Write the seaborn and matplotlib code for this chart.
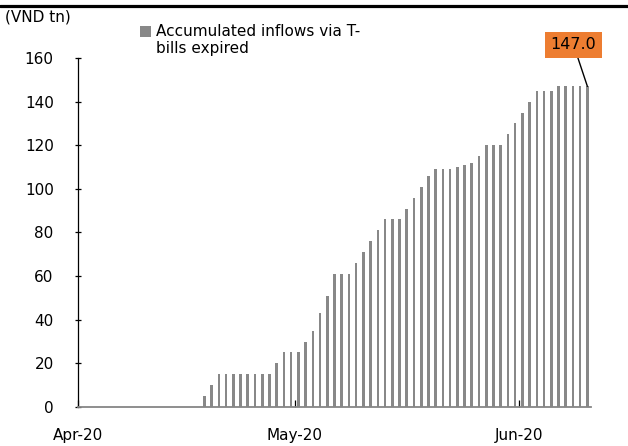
import matplotlib
matplotlib.use("Agg")
import matplotlib.pyplot as plt
from matplotlib.lines import Line2D
from matplotlib.patches import Rectangle
from matplotlib.legend_handler import HandlerPatch
import seaborn as sns
import pandas as pd
import numpy as np

# ---- data ----
start_date = "2020-04-18"
end_date = "2020-06-10"
values = [5, 10, 15, 15, 15, 15, 15, 15, 15, 15, 20, 25, 25, 25, 30, 35, 43, 51,
          61, 61, 61, 66, 71, 76, 81, 86, 86, 86, 91, 96, 101, 106, 109, 109, 109,
          110, 111, 112, 115, 120, 120, 120, 125, 130, 135, 140, 145, 145, 145,
          147, 147, 147, 147, 147]
series_label = "Accumulated inflows via T-\nbills expired"
unit_label = "(VND tn)"
tick_dates = ["2020-04-01", "2020-05-01", "2020-06-01"]
tick_labels = ["Apr-20", "May-20", "Jun-20"]
axis_start = "2020-04-01"
axis_end = "2020-06-11"
last_label = "147.0"

dates = pd.date_range(start_date, end_date, freq="D")
origin = pd.Timestamp(axis_start)
day_pos = (dates - origin).days.values + 0.5
df = pd.DataFrame({"day": day_pos, "value": values})

sns.set_theme(style="white")
plt.rcParams["font.family"] = ["DejaVu Sans"]
plt.rcParams["text.color"] = "#000000"

fig = plt.figure(figsize=(6.28, 4.46), dpi=100)
ax = fig.add_axes([78 / 628, 39 / 446, 513 / 628, 349 / 446])

bar_color = "#888888"
sns.barplot(data=df, x="day", y="value", native_scale=True, color=bar_color,
            width=0.36, linewidth=0, ax=ax, saturation=1, errorbar=None,
            label=series_label)

ax.set_xlim(0, (pd.Timestamp(axis_end) - origin).days)
ax.set_ylim(0, 160)
ax.set_yticks(np.arange(0, 161, 20))
ax.set_xticks([(pd.Timestamp(d) - origin).days for d in tick_dates])
ax.set_xticklabels(tick_labels)
ax.set_xlabel("")
ax.set_ylabel("")

for s in ["top", "right"]:
    ax.spines[s].set_visible(False)
ax.spines["left"].set_color("#000000")
ax.spines["left"].set_linewidth(0.9)
ax.spines["bottom"].set_color("#868686")
ax.spines["bottom"].set_linewidth(1.3)

ax.tick_params(axis="y", direction="inout", length=5, width=0.9, color="#000000",
               labelsize=11, pad=15, left=True, labelcolor="#000000")
ax.tick_params(axis="x", direction="in", length=5, width=0.9, color="#000000",
               labelsize=11, pad=15, bottom=True, labelcolor="#000000")


def top_square(legend, orig_handle, xdescent, ydescent, width, height, fontsize):
    return Rectangle((-xdescent, -ydescent + 0.6 * fontsize), width, height)


# legend
handles, labels = ax.get_legend_handles_labels()
square = handles[0].patches[0]
leg = ax.legend([square], labels, loc="upper left",
                bbox_to_anchor=(140 / 628, 1 - 24 / 446),
                bbox_transform=fig.transFigure, frameon=False, fontsize=11,
                handlelength=0.75, handleheight=0.75, handletextpad=0.3,
                borderpad=0, borderaxespad=0, labelcolor="#000000",
                handler_map={Rectangle: HandlerPatch(patch_func=top_square)})

# unit label
fig.text(5 / 628, 1 - 17 / 446, unit_label, fontsize=11, va="center", ha="left")

# last value annotation
ax.annotate(last_label, xy=(day_pos[-1], values[-1]), xytext=(-10, 30),
            textcoords="offset points", ha="center", va="center", fontsize=11.5,
            annotation_clip=False,
            bbox=dict(boxstyle="square,pad=0.35", fc="#ED7D31", ec="none"),
            arrowprops=dict(arrowstyle="-", color="#000000", lw=1,
                            shrinkA=0, shrinkB=0))

# top rule
fig.add_artist(Line2D([0, 1], [1 - 5.5 / 446, 1 - 5.5 / 446], color="black",
                      linewidth=2.3, transform=fig.transFigure))

fig.savefig("out.png", dpi=100)
